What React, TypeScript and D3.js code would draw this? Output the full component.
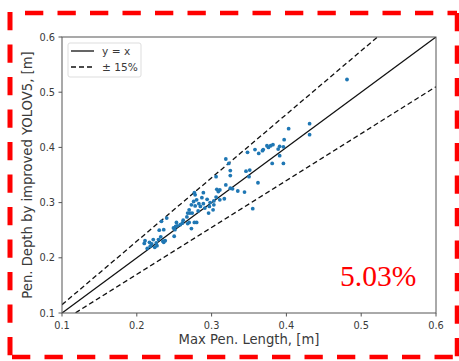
import React from "react";
import * as d3 from "d3";

const xTicks = [0.1, 0.2, 0.3, 0.4, 0.5, 0.6];
const yTicks = [0.1, 0.2, 0.3, 0.4, 0.5, 0.6];
const maxPenLength = [
  0.481, 0.431, 0.431, 0.403, 0.397, 0.396, 0.396, 0.391, 0.389, 0.391, 0.382, 0.379, 0.381, 0.376, 0.374, 0.369,
  0.368, 0.363, 0.358, 0.348, 0.362, 0.355, 0.351, 0.346, 0.35, 0.344, 0.335, 0.325, 0.325, 0.319, 0.323, 0.325,
  0.328, 0.319, 0.317, 0.311, 0.309, 0.307, 0.311, 0.306, 0.306, 0.303, 0.303, 0.302, 0.298, 0.297, 0.296, 0.294,
  0.291, 0.289, 0.289, 0.287, 0.285, 0.283, 0.282, 0.28, 0.278, 0.278, 0.276, 0.277, 0.28, 0.277, 0.274, 0.273,
  0.271, 0.27, 0.268, 0.267, 0.268, 0.27, 0.273, 0.261, 0.262, 0.258, 0.254, 0.253, 0.252, 0.249, 0.251, 0.25,
  0.24, 0.236, 0.233, 0.232, 0.235, 0.23, 0.229, 0.227, 0.224, 0.226, 0.222, 0.22, 0.218, 0.217, 0.214, 0.211,
  0.21, 0.236, 0.238,
];
const penDepth = [
  0.523, 0.443, 0.423, 0.434, 0.414, 0.401, 0.371, 0.402, 0.397, 0.385, 0.405, 0.403, 0.371, 0.4, 0.403, 0.396,
  0.394, 0.389, 0.396, 0.391, 0.336, 0.289, 0.359, 0.357, 0.347, 0.319, 0.321, 0.358, 0.349, 0.379, 0.371, 0.326,
  0.325, 0.332, 0.307, 0.323, 0.32, 0.324, 0.305, 0.31, 0.347, 0.303, 0.296, 0.287, 0.3, 0.293, 0.281, 0.306,
  0.29, 0.298, 0.318, 0.309, 0.293, 0.298, 0.285, 0.305, 0.294, 0.314, 0.302, 0.318, 0.264, 0.264, 0.281, 0.296,
  0.281, 0.287, 0.281, 0.274, 0.262, 0.264, 0.253, 0.263, 0.268, 0.26, 0.258, 0.264, 0.257, 0.254, 0.251, 0.239,
  0.272, 0.251, 0.266, 0.238, 0.23, 0.25, 0.233, 0.222, 0.219, 0.227, 0.233, 0.225, 0.221, 0.228, 0.217, 0.231,
  0.226, 0.228, 0.231,
];
const refLines = [
  { label: "y = x", factor: 1.0, dashed: false },
  { label: "± 15%", factor: 1.15, dashed: true },
  { label: "", factor: 0.85, dashed: true },
];
const errorText = "5.03%";

export default function App() {
  const W = 459, H = 361;
  const left = 62, right = 436, top = 37, bottom = 313;
  const x = d3.scaleLinear().domain([0.1, 0.6]).range([left, right]);
  const y = d3.scaleLinear().domain([0.1, 0.6]).range([bottom, top]);
  const tickColor = "#3a3a3a";
  const font = "'DejaVu Sans', sans-serif";
  const pts = maxPenLength.map((v, i) => [v, penDepth[i]] as [number, number]);
  const line = d3.line<[number, number]>().x((d) => x(d[0])).y((d) => y(d[1]));
  const refPath = (f: number) => {
    const x0 = 0.1, x1 = Math.min(0.6, 0.6 / f);
    return line([[x0, x0 * f], [x1, x1 * f]]);
  };
  const red = "#ff0000";
  const dash = "18.3 14.2";
  return (
    <svg width={W} height={H} style={{ position: "absolute", left: 0, top: 0, background: "#fff" }}>
      <defs>
        <clipPath id="plotclip">
          <rect x={left} y={top} width={right - left} height={bottom - top} />
        </clipPath>
      </defs>
      <rect x={0} y={0} width={W} height={H} fill="#fff" />
      {/* red dashed frame */}
      <line x1={25} y1={13} x2={457} y2={13} stroke={red} strokeWidth={4.5} strokeDasharray={dash} />
      <line x1={10} y1={12} x2={10} y2={359} stroke={red} strokeWidth={5} strokeDasharray={dash} />
      <line x1={457} y1={13} x2={457} y2={359} stroke={red} strokeWidth={4.5} strokeDasharray={dash} />
      <line x1={12} y1={357} x2={459} y2={357} stroke={red} strokeWidth={4.5} strokeDasharray={dash} />

      <g clipPath="url(#plotclip)">
        {refLines.map((r, i) => (
          <path key={i} d={refPath(r.factor) || ""} fill="none" stroke="#111" strokeWidth={1.3}
            strokeDasharray={r.dashed ? "5 3" : undefined} />
        ))}
        {pts.map((p, i) => (
          <circle key={i} cx={x(p[0])} cy={y(p[1])} r={1.9} fill="#1f77b4" />
        ))}
      </g>
      {/* frame */}
      <rect x={left} y={top} width={right - left} height={bottom - top} fill="none" stroke="#555" strokeWidth={1} />
      {/* x ticks */}
      {xTicks.map((t) => (
        <g key={"x" + t}>
          <line x1={x(t)} x2={x(t)} y1={bottom} y2={bottom + 3.5} stroke="#555" />
          <text x={x(t)} y={329} fontSize={9.8} fontFamily={font} fill={tickColor} textAnchor="middle">{d3.format(".1f")(t)}</text>
        </g>
      ))}
      {yTicks.map((t) => (
        <g key={"y" + t}>
          <line x1={left - 3.5} x2={left} y1={y(t)} y2={y(t)} stroke="#555" />
          <text x={55} y={y(t) + 3.5} fontSize={9.8} fontFamily={font} fill={tickColor} textAnchor="end">{d3.format(".1f")(t)}</text>
        </g>
      ))}
      <text x={(left + right) / 2} y={344} fontSize={13.2} fontFamily={font} fill={tickColor} textAnchor="middle">Max Pen. Length, [m]</text>
      <text transform={`translate(31.5,${(top + bottom) / 2}) rotate(-90)`} fontSize={13.2} fontFamily={font} fill={tickColor} textAnchor="middle">Pen. Depth by improved YOLOV5, [m]</text>
      {/* legend */}
      <rect x={68} y={43} width={73} height={34} rx={2} fill="#fff" stroke="#ddd" strokeWidth={1} />
      {refLines.filter((r) => r.label).map((r, i) => (
        <g key={"lg" + i}>
          <line x1={71} x2={94} y1={51 + i * 16} y2={51 + i * 16} stroke="#111" strokeWidth={1.3}
            strokeDasharray={r.dashed ? "5 3" : undefined} />
          <text x={102} y={55 + i * 16} fontSize={10.6} fontFamily={font} fill={tickColor}>{r.label}</text>
        </g>
      ))}
      <text x={340} y={286} fontSize={29.5} fontFamily="'Liberation Serif', 'Times New Roman', serif" fill={red}>{errorText}</text>
    </svg>
  );
}
